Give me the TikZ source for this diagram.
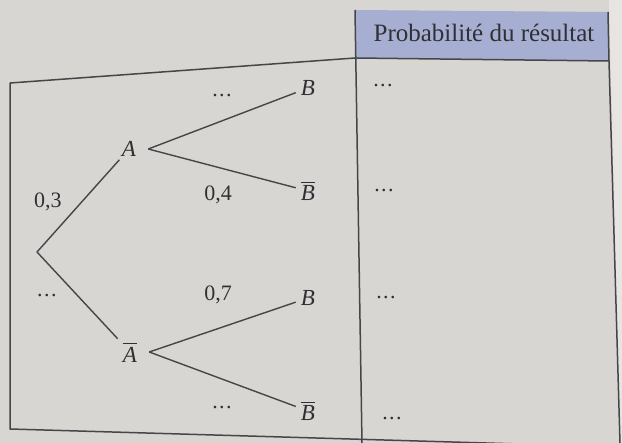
\documentclass[tikz,border=0pt]{standalone}
\usepackage{amsmath}
\usepackage{fontspec}
\setmainfont{Liberation Serif}
\definecolor{paper}{RGB}{216,214,210}
\definecolor{paperlight}{RGB}{230,229,226}
\definecolor{headblue}{RGB}{166,174,210}
\definecolor{ink}{RGB}{48,48,52}
\definecolor{rule}{RGB}{70,70,74}
\newcommand{\lt}[1]{\textit{#1}}
\newcommand{\blt}[1]{$\overline{\textit{#1}}$}
\newcommand{\dotsx}{.\kern1.5pt.\kern1.5pt.}
\begin{document}
\begin{tikzpicture}[x=1pt,y=-1pt,
  parent/.style={text=ink,inner xsep=12pt,inner ysep=3pt,font=\fontsize{23}{26}\selectfont},
  leaf/.style={text=ink,inner xsep=5pt,inner ysep=3pt,font=\fontsize{23}{26}\selectfont},
  prob/.style={text=ink,font=\fontsize{22}{26}\selectfont},
  dotlab/.style={text=ink,font=\fontsize{22}{26}\selectfont},
  branch/.style={draw=rule,line width=1.4pt},
  frame/.style={draw=rule,line width=1.5pt}]
\useasboundingbox (0,0) rectangle (622,443);
\begin{scope}
\clip (0,0) rectangle (622,443);
% page
\fill[paper] (0,0) rectangle (622,443);
\fill[paperlight] (609,0) -- (622,0) -- (622,443) -- (620,443) -- cycle;
% header cell
\fill[headblue] (355,10) -- (608,12) -- (609,61) -- (355,58) -- cycle;
\node[text=ink,font=\fontsize{25}{28}\selectfont] (head) at (484,33) {Probabilit\'e du r\'esultat};
% frame
\draw[frame] (10,83) -- (355,58) -- (609,61);
\draw[frame] (10,83) -- (10,429) -- (622,447);
\draw[frame] (608,12) -- (609,61) -- (620,443);
\draw[frame] (355,10) -- (362,443);
\end{scope}
% tree
\coordinate (root) at (37,252);
\node[parent] (a) at (129,149) {\lt{A}};
\node[parent] (abar) at (130,352) {\blt{A}};
\node[leaf] (b1) at (308,88) {\lt{B}};
\node[leaf] (bb1) at (308,191) {\blt{B}};
\node[leaf] (b2) at (308,298) {\lt{B}};
\node[leaf] (bb2) at (308,411) {\blt{B}};
\draw[branch] (root) -- (a);
\draw[branch] (root) -- (abar);
\draw[branch] (a.east) -- (b1);
\draw[branch] (a.east) -- (bb1);
\draw[branch] (abar.east) -- (b2);
\draw[branch] (abar.east) -- (bb2);
% branch labels
\node[prob] (p03) at (48,202) {0,3};
\node[dotlab] (pabar) at (47,296) {\dotsx};
\node[dotlab] (pab) at (222,96) {\dotsx};
\node[prob] (p04) at (218,195) {0,4};
\node[prob] (p07) at (218,295) {0,7};
\node[dotlab] (pabb) at (222,408) {\dotsx};
% result column
\node[dotlab] (r1) at (383,86) {\dotsx};
\node[dotlab] (r2) at (384,191) {\dotsx};
\node[dotlab] (r3) at (386,298) {\dotsx};
\node[dotlab] (r4) at (392,419) {\dotsx};
\end{tikzpicture}
\end{document}
